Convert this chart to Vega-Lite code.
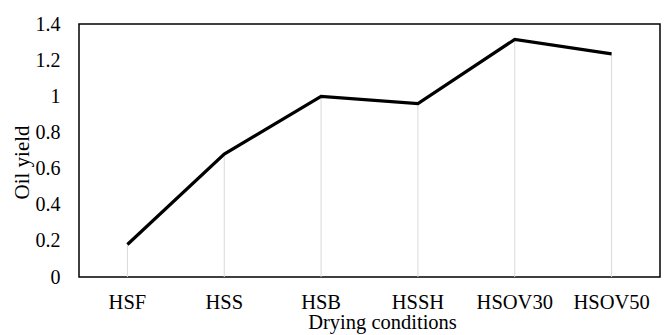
{
  "$schema": "https://vega.github.io/schema/vega-lite/v6.json",
  "autosize": "none",
  "width": 581,
  "height": 253,
  "padding": {"left": 79, "top": 24, "right": 9, "bottom": 58},
  "background": "white",
  "config": {
    "font": "Liberation Serif",
    "view": {"stroke": "black", "strokeWidth": 1.5},
    "axis": {"grid": false, "domain": false, "ticks": false, "labelColor": "black", "titleColor": "black", "labelFont": "Liberation Serif", "titleFont": "Liberation Serif", "labelFontSize": 20, "titleFontSize": 21, "titleFontWeight": "normal"}
  },
  "data": {"values": [
    {"condition": "HSF", "yield": 0.18},
    {"condition": "HSS", "yield": 0.68},
    {"condition": "HSB", "yield": 1.0},
    {"condition": "HSSH", "yield": 0.96},
    {"condition": "HSOV30", "yield": 1.315},
    {"condition": "HSOV50", "yield": 1.235}
  ]},
  "encoding": {
    "x": {"field": "condition", "type": "nominal", "sort": null, "scale": {"paddingInner": 0, "paddingOuter": 0}, "axis": {"title": "Drying conditions", "labelAngle": 0, "labelFontSize": 20.5, "labelPadding": 15, "titleFontSize": 20.5, "titlePadding": 0, "titleX": 303}},
    "y": {"field": "yield", "type": "quantitative", "scale": {"domain": [0, 1.4], "nice": false}, "axis": {"title": "Oil yield", "values": [0, 0.2, 0.4, 0.6, 0.8, 1, 1.2, 1.4], "labelExpr": "format(datum.value, '~g')", "labelPadding": 19, "titlePadding": 3, "titleY": 138}}
  },
  "layer": [
    {"mark": {"type": "rule", "color": "#d9d9d9", "strokeWidth": 1}, "encoding": {"y2": {"datum": 0}}},
    {"mark": {"type": "line", "color": "black", "strokeWidth": 3.2}}
  ]
}
